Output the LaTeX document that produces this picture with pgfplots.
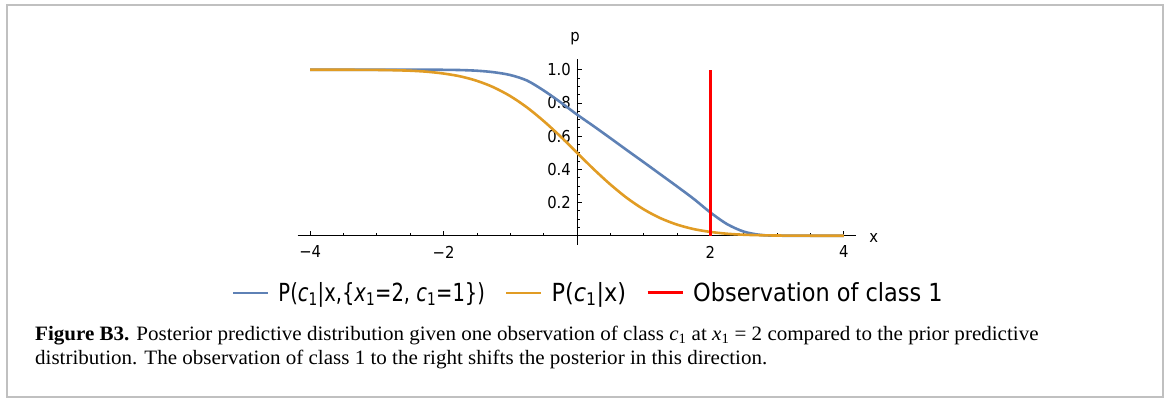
\documentclass[border=0pt]{standalone}
\usepackage{fontspec}
\usepackage{pgfplots}
\pgfplotsset{compat=1.18}
\newfontfamily\djv[FakeStretch=0.9]{DejaVu Sans}
\newfontfamily\capfont[FakeStretch=1.03]{Liberation Serif}
\definecolor{mblue}{RGB}{94,129,181}
\definecolor{morange}{RGB}{225,156,36}
\definecolor{boxgray}{RGB}{192,192,192}
\begin{document}
\begin{tikzpicture}
\useasboundingbox (0,0) rectangle (1167bp,398bp);
\draw[boxgray, line width=2bp] (7bp,393bp) rectangle (1163bp,1bp);
\begin{axis}[
  at={(297.5bp,153.3bp)}, anchor=south west,
  scale only axis, width=558.3bp, height=185.6bp,
  xmin=-4.19, xmax=4.18, ymin=-0.054, ymax=1.064,
  axis lines=middle, axis line style={-, line width=0.9bp, black},
  clip=false,
  xtick={-4,-2,2,4}, xticklabels={−4,−2,2,4},
  minor xtick={-3.5,-3,-2.5,-1.5,-1,-0.5,0.5,1,1.5,2.5,3,3.5},
  ytick={0.2,0.4,0.6,0.8,1.0}, yticklabels={0.2,0.4,0.6,0.8,1.0},
  minor ytick={0.05,0.1,0.15,0.25,0.3,0.35,0.45,0.5,0.55,0.65,0.7,0.75,0.85,0.9,0.95},
  tick align=inside,
  major tick length=5bp, minor tick length=3bp,
  every tick/.style={black, line width=0.8bp},
  xticklabel style={font=\djv\fontsize{16.5}{18}\selectfont, inner sep=0pt, anchor=north, yshift=-10bp},
  yticklabel style={font=\djv\fontsize{16.5}{18}\selectfont, inner sep=0pt, anchor=east, xshift=-6bp},
  legend style={at={(axis description cs:0.519,-0.26)}, anchor=center, draw=none, fill=none,
    font=\djv\fontsize{25}{28}\selectfont, legend columns=3,
    nodes={inner sep=0pt},
    /tikz/every odd column/.append style={column sep=9bp},
    /tikz/every even column/.append style={column sep=20bp},
    legend cell align=left},
  legend image code/.code={\draw[#1] (0bp,0bp) -- (35bp,0bp);},
]
\addplot[mblue, line width=2.6bp, smooth] coordinates {
(-4,1) (-3,1) (-2.5,1) (-2,0.9995) (-1.75,0.998) (-1.5,0.994) (-1.25,0.985)
(-1,0.968) (-0.75,0.935) (-0.5,0.875) (-0.25,0.805) (0,0.73) (0.25,0.66)
(0.5,0.588) (0.75,0.515) (1,0.443) (1.25,0.37) (1.5,0.297) (1.75,0.222)
(2,0.14) (2.25,0.07) (2.5,0.025) (2.75,0.005) (3,0.0005) (3.5,0) (4,0)};
\addlegendentry{\scalebox{0.87}[1]{P(\textit{c}\textsubscript{1}|x,\{\textit{x}\textsubscript{1}=2, \textit{c}\textsubscript{1}=1\})}}
\addplot[morange, line width=2.6bp, smooth] coordinates {
(-4,1) (-3.5,0.9998) (-3,0.9987) (-2.75,0.997) (-2.5,0.994) (-2.25,0.988)
(-2,0.977) (-1.75,0.96) (-1.5,0.933) (-1.25,0.894) (-1,0.841) (-0.75,0.773)
(-0.5,0.691) (-0.25,0.599) (0,0.5) (0.25,0.401) (0.5,0.309) (0.75,0.227)
(1,0.159) (1.25,0.106) (1.5,0.067) (1.75,0.04) (2,0.023) (2.25,0.012)
(2.5,0.006) (2.75,0.003) (3,0.0013) (3.5,0.0002) (4,0)};
\addlegendentry{P(\textit{c}\textsubscript{1}|x)}
\addplot[red, line width=3bp] coordinates {(2,0) (2,1)};
\addlegendentry{Observation of class 1}
\node[font=\djv\fontsize{16.5}{18}\selectfont] at (axis cs:-0.03,1.19) {p};
\node[font=\djv\fontsize{16.5}{18}\selectfont] at (axis cs:4.45,-0.015) {x};
\end{axis}
\node[anchor=base west, align=left, inner sep=0pt, font=\capfont\fontsize{20.5}{25}\selectfont] at (35bp,33bp)
{\textbf{Figure B3.} Posterior predictive distribution given one observation of class \textit{c}\textsubscript{1} at \textit{x}\textsubscript{1} = 2 compared to the prior predictive\\
distribution. The observation of class 1 to the right shifts the posterior in this direction.};
\end{tikzpicture}
\end{document}
